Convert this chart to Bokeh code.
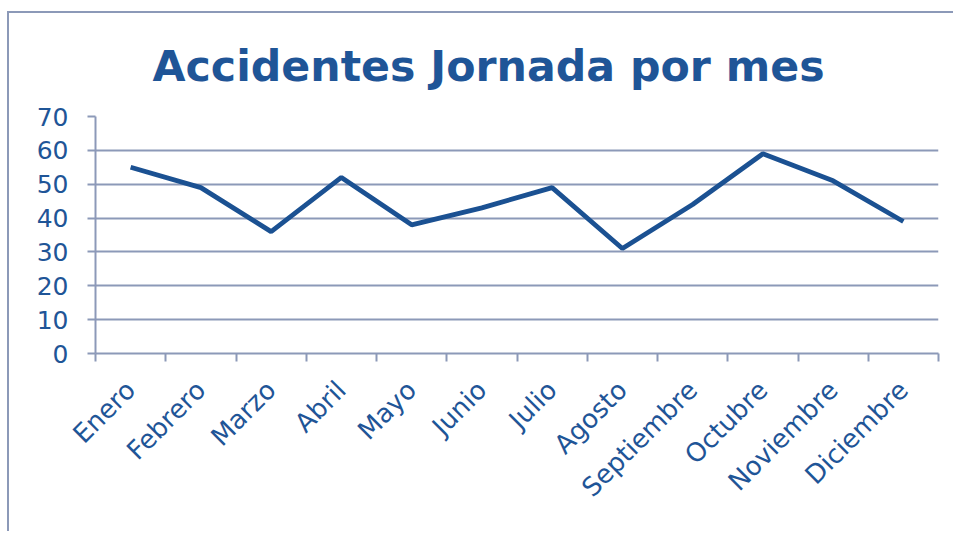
import math
from bokeh.plotting import figure
from bokeh.models import FixedTicker, Range1d
from bokeh.embed import file_html
from bokeh.resources import INLINE

months = ["Enero", "Febrero", "Marzo", "Abril", "Mayo", "Junio", "Julio",
          "Agosto", "Septiembre", "Octubre", "Noviembre", "Diciembre"]
accidents = [55, 49, 36, 52, 38, 43, 49, 31, 44, 59, 51, 39]
y_ticks = [0, 10, 20, 30, 40, 50, 60, 70]
title_text = "Accidentes Jornada por mes"

TEXT = "#1F5597"
LINE = "#1B5192"
GRID = "#8C99B8"
FONT = "DejaVu Sans"

n = len(months)
xs = [i + 0.5 for i in range(n)]
boundaries = list(range(n + 1))

p = figure(width=946, height=520, output_backend="svg", toolbar_location=None,
           x_range=Range1d(0, n), y_range=Range1d(y_ticks[0], y_ticks[-1]),
           min_border_left=86, min_border_right=17, min_border_top=103,
           min_border_bottom=180)
p.styles = {"margin-top": "11px", "margin-left": "7px",
            "border-top": f"2px solid {GRID}",
            "border-left": f"2px solid {GRID}"}
p.outline_line_color = None
p.background_fill_color = "white"
p.border_fill_color = "white"

p.title.text = title_text
p.title.text_font = FONT
p.title.text_font_style = "bold"
p.title.text_font_size = "42.7px"
p.title.text_color = TEXT
p.title.align = "left"
p.title.offset = 57
p.title.standoff = 51

# y axis
ya = p.yaxis[0]
ya.ticker = FixedTicker(ticks=y_ticks)
ya.axis_line_color = GRID
ya.axis_line_width = 2
ya.major_tick_line_color = GRID
ya.major_tick_line_width = 2
ya.major_tick_out = 8
ya.major_tick_in = 0
ya.minor_tick_line_color = None
ya.major_label_text_font = FONT
ya.major_label_text_font_size = "25px"
ya.major_label_text_color = TEXT
ya.major_label_standoff = 19

# x axis
xa = p.xaxis[0]
xa.ticker = FixedTicker(ticks=xs, minor_ticks=boundaries)
xa.axis_line_color = GRID
xa.axis_line_width = 2
xa.major_tick_line_color = None
xa.major_tick_out = 0
xa.major_tick_in = 0
xa.minor_tick_line_color = GRID
xa.minor_tick_line_width = 2
xa.minor_tick_out = 8
xa.minor_tick_in = 0
xa.major_label_overrides = {x: m for x, m in zip(xs, months)}
xa.major_label_orientation = math.pi / 4
xa.major_label_text_font = FONT
xa.major_label_text_font_size = "26px"
xa.major_label_text_color = TEXT
xa.major_label_standoff = 24

p.xgrid.visible = False
p.ygrid.ticker = FixedTicker(ticks=y_ticks)
p.ygrid.grid_line_color = GRID
p.ygrid.grid_line_width = 2

p.line(xs, accidents, line_color=LINE, line_width=4.8)

open("out.html", "w").write(file_html(p, INLINE))
